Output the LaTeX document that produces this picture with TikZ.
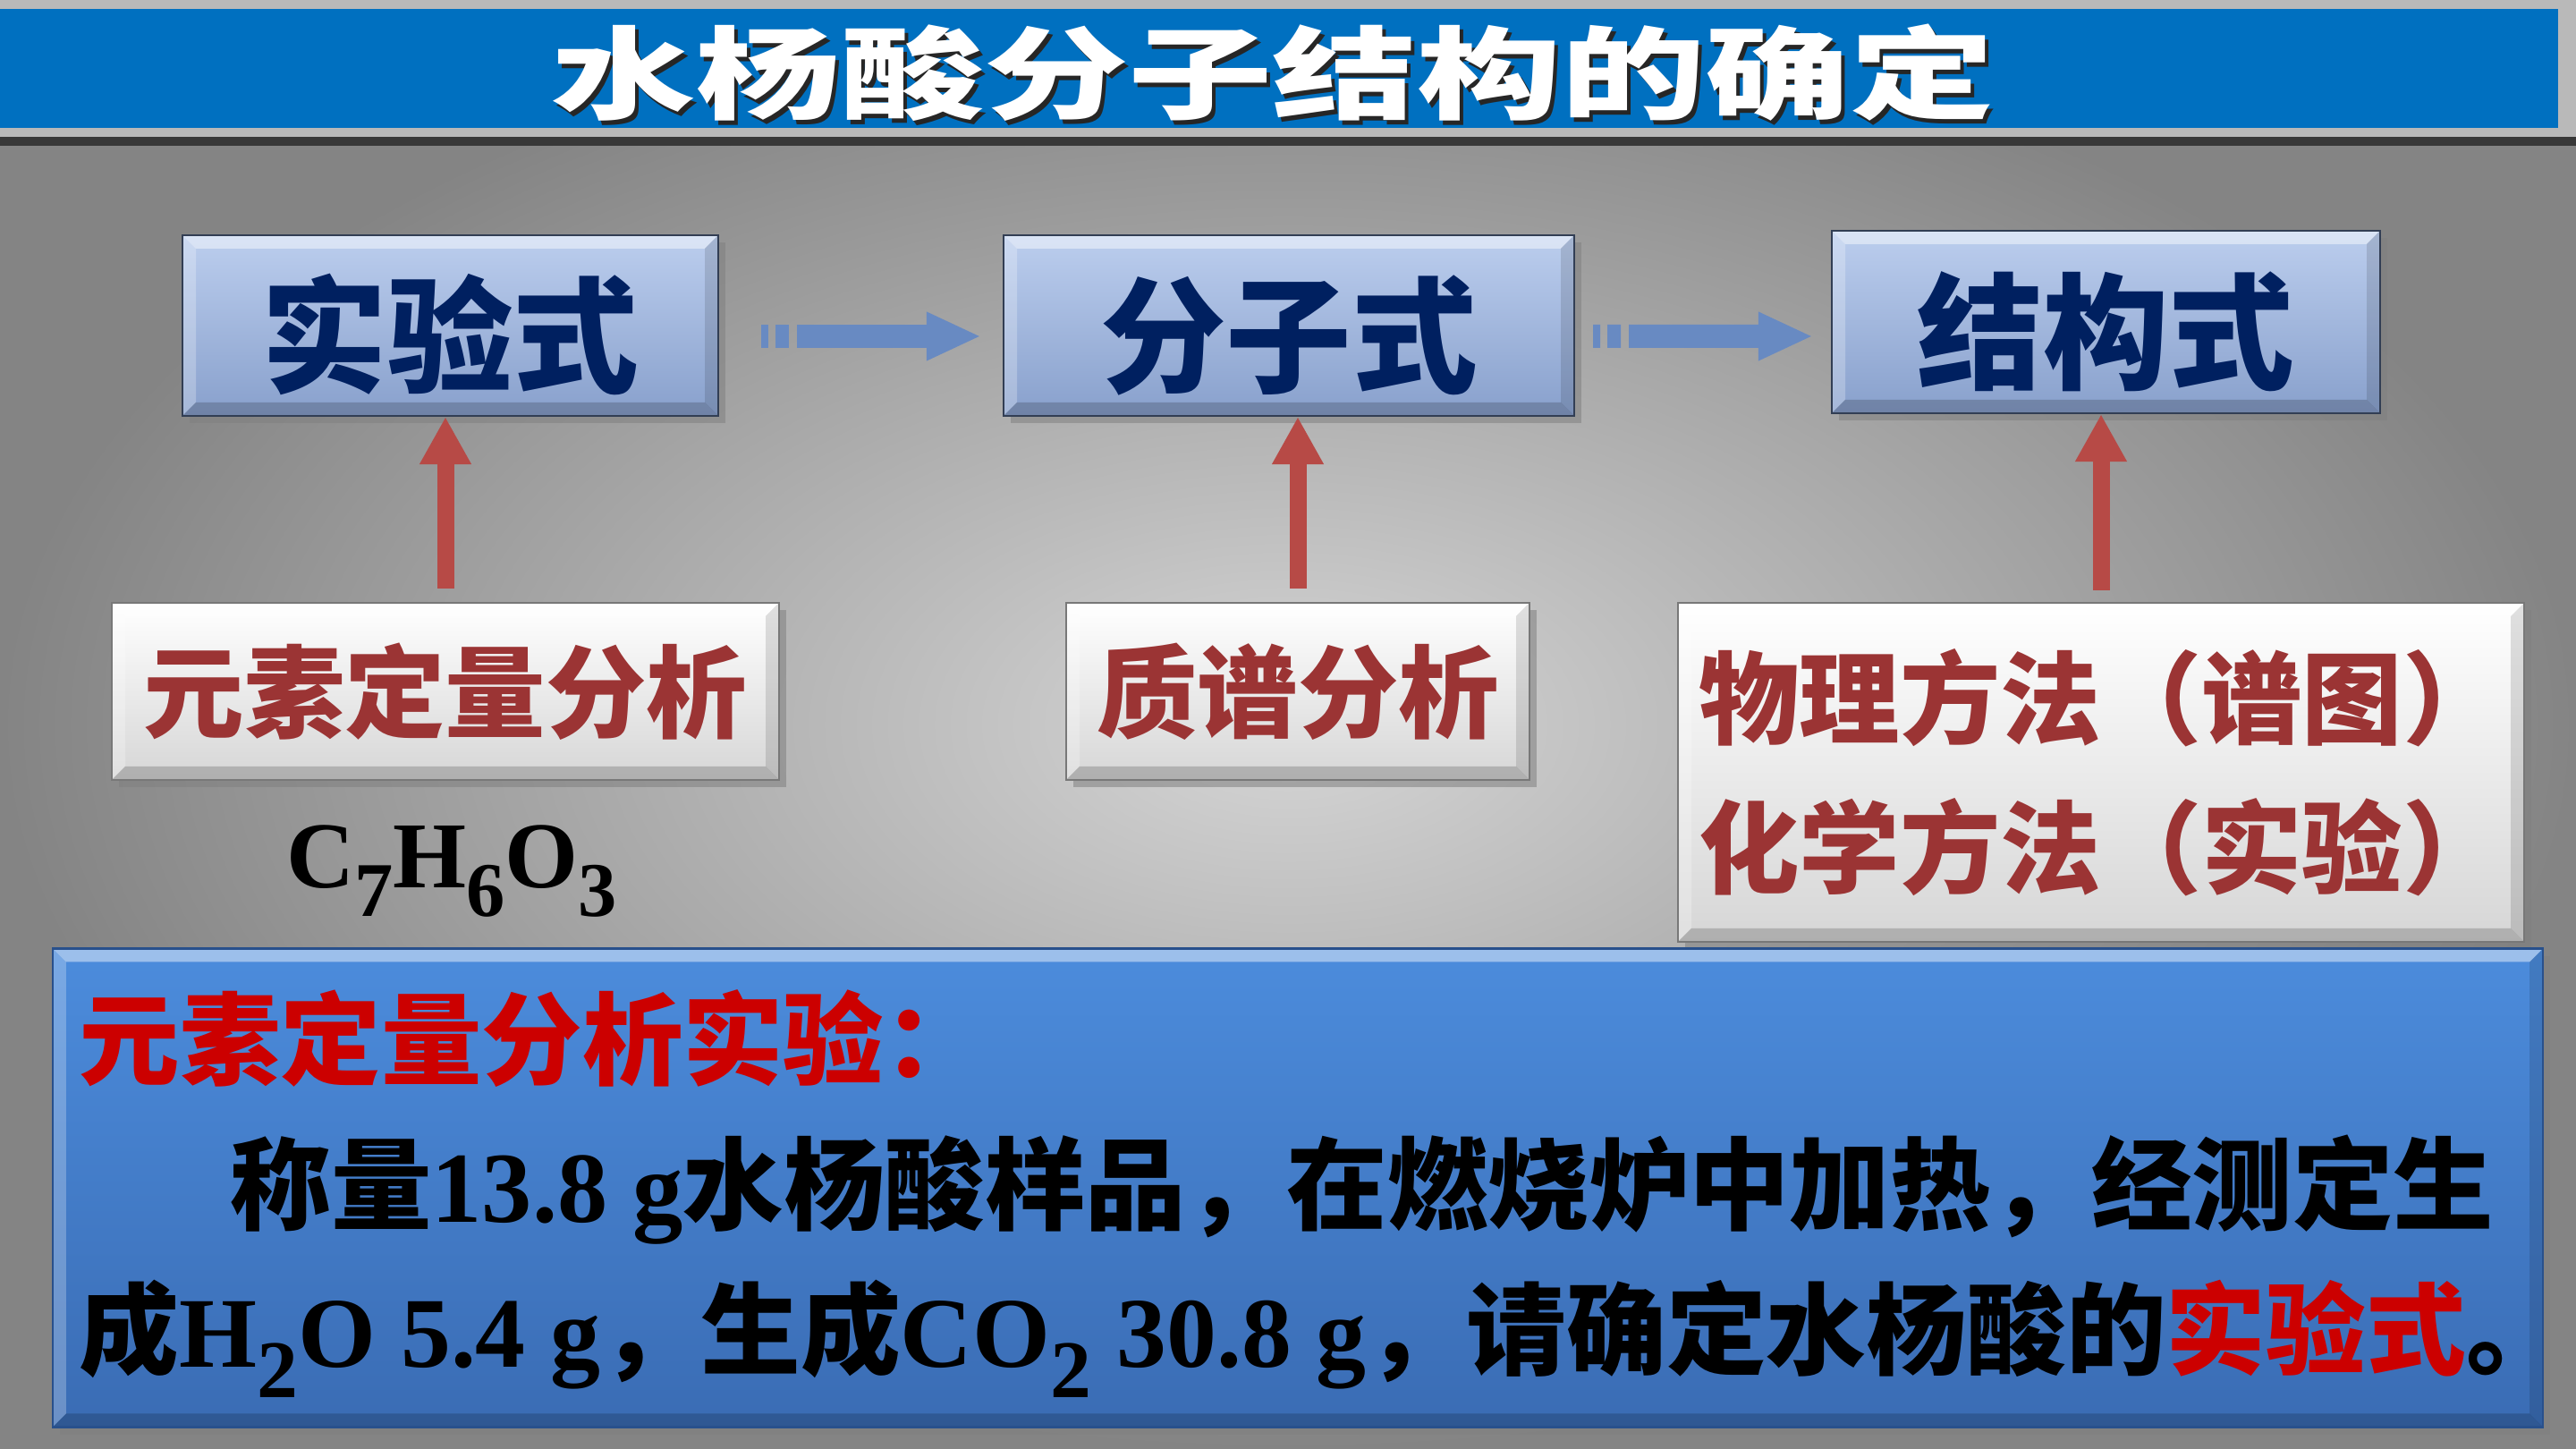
\documentclass[tikz,border=0pt]{standalone}
\usepackage{fontspec}
\setmainfont{Liberation Serif}
\newfontfamily\hei{Noto Sans CJK SC}
\usetikzlibrary{arrows.meta, positioning, shadows}

\definecolor{bgin}{RGB}{214,214,214}
\definecolor{bgout}{RGB}{132,132,132}
\definecolor{titleblue}{RGB}{0,112,192}
\definecolor{uptop}{RGB}{188,206,238}
\definecolor{upbot}{RGB}{136,160,204}
\definecolor{upedge}{RGB}{50,62,84}
\definecolor{uptext}{RGB}{0,32,96}
\definecolor{lowbot}{RGB}{214,214,214}
\definecolor{lowedge}{RGB}{120,120,120}
\definecolor{lowtext}{RGB}{155,52,52}
\definecolor{flowblue}{RGB}{104,138,194}
\definecolor{srcred}{RGB}{183,74,70}
\definecolor{probtop}{RGB}{76,140,220}
\definecolor{probbot}{RGB}{58,108,180}
\definecolor{probedge}{RGB}{40,80,140}
\definecolor{headred}{RGB}{204,0,0}

\newcommand{\chemsub}[1]{\raisebox{-0.3em}{\scalebox{0.82}{#1}}}

\begin{document}
\begin{tikzpicture}[
  bevel/.style={path picture={
    \fill[white, opacity=0.45] (path picture bounding box.north west) -- (path picture bounding box.north east)
      -- ([shift={(-1.5mm,-1.5mm)}]path picture bounding box.north east) -- ([shift={(1.5mm,-1.5mm)}]path picture bounding box.north west) -- cycle;
    \fill[white, opacity=0.25] (path picture bounding box.north west) -- (path picture bounding box.south west)
      -- ([shift={(1.5mm,1.5mm)}]path picture bounding box.south west) -- ([shift={(1.5mm,-1.5mm)}]path picture bounding box.north west) -- cycle;
    \fill[black, opacity=0.18] (path picture bounding box.south west) -- (path picture bounding box.south east)
      -- ([shift={(-1.5mm,1.5mm)}]path picture bounding box.south east) -- ([shift={(1.5mm,1.5mm)}]path picture bounding box.south west) -- cycle;
    \fill[black, opacity=0.12] (path picture bounding box.north east) -- (path picture bounding box.south east)
      -- ([shift={(-1.5mm,1.5mm)}]path picture bounding box.south east) -- ([shift={(-1.5mm,-1.5mm)}]path picture bounding box.north east) -- cycle;
  }},
  upbox/.style={draw=upedge, line width=0.6pt, top color=uptop, bottom color=upbot,
    text=uptext, font=\hei\bfseries\fontsize{40}{40}\selectfont,
    text height=40pt, text depth=3pt,
    minimum height=2.02cm, drop shadow={opacity=0.55}, bevel},
  lowbox/.style={draw=lowedge, line width=0.6pt, top color=white, bottom color=lowbot,
    text=lowtext, font=\hei\bfseries\fontsize{32}{47.5}\selectfont,
    minimum height=1.98cm, drop shadow={opacity=0.55}, bevel},
  probbox/.style={draw=probedge, line width=0.8pt, top color=probtop, bottom color=probbot,
    drop shadow={opacity=0.6}, bevel},
  flow/.style={draw=flowblue, line width=2.6mm, -{Triangle[width=5mm,length=6.1mm]},
    dash pattern=on 0.8mm off 0.8mm on 1.5mm off 0.9mm on 40cm off 1mm},
  source/.style={draw=srcred, line width=1.9mm, -{Triangle[width=5.4mm,length=5.3mm]}},
  titletext/.style={font=\hei\bfseries\fontsize{32}{32}\selectfont, xscale=1.434, inner sep=0pt},
  bodyline/.style={anchor=west, inner sep=0pt, font=\bfseries\fontsize{32}{32}\selectfont},
]
\useasboundingbox (0,0) rectangle (28.8,16.2);

% metal background and title bar
\shade[inner color=bgin, outer color=bgout] (0,0) rectangle (28.8,16.2);
\fill[gray!55] (0,16.2) rectangle (28.8,14.67);
\fill[black!78] (0,14.67) rectangle (28.8,14.57);
\fill[titleblue] (0,16.1) rectangle (28.6,14.77);
\node[titletext, text=black!85] (titleshadow) at (14.27,15.34) {水杨酸分子结构的确定};
\node[titletext, text=white] (title) at (14.23,15.39) {水杨酸分子结构的确定};

% formula chain
\node[upbox, minimum width=5.99cm] (shiyan) at (5.035,12.56) {实验式};
\node[upbox, minimum width=6.38cm] (fenzi) at (14.41,12.56) {分子式};
\node[upbox, minimum width=6.13cm, minimum height=2.04cm] (jiegou) at (23.545,12.60) {结构式};

\draw[flow] ([xshift=4.7mm,yshift=-1.2mm]shiyan.east) -- ([xshift=-2.4mm,yshift=-1.2mm]fenzi.west);
\draw[flow] ([xshift=2mm,yshift=-1.2mm]fenzi.east) -- ([xshift=-2mm,yshift=-1.6mm]jiegou.west);

% methods
\node[lowbox, minimum width=7.46cm] (yuansu) at (4.98,8.47) {元素定量分析};
\node[lowbox, minimum width=5.18cm] (zhipu) at (14.51,8.47) {质谱分析};
\node[lowbox, minimum width=9.46cm, minimum height=3.79cm, align=left] (fangfa) at (23.49,7.565)
  {物理方法（谱图）\\化学方法（实验）};

\draw[source] ([yshift=1.5mm]yuansu.north) -- (yuansu.north |- shiyan.south);
\draw[source] ([yshift=1.5mm]zhipu.north) -- (zhipu.north |- fenzi.south);
\draw[source] ([yshift=1.3mm]fangfa.north) -- (fangfa.north |- jiegou.south);

\node[font=\bfseries\fontsize{30}{30}\selectfont, anchor=base] (formula) at (5.05,6.27)
  {C\chemsub{7}H\chemsub{6}O\chemsub{3}};

% problem text
\node[probbox, minimum width=27.84cm, minimum height=5.35cm] (problem) at (14.51,2.92) {};
\node[bodyline, text=headred] (head) at (0.88,4.59) {\hei 元素定量分析实验：};
\node[bodyline] (lineone) at (2.57,2.90)
  {{\hei 称量}13.8 g{\hei 水杨酸样品，在燃烧炉中加热，经测定生}};
\node[bodyline, font=\bfseries\fontsize{31.8}{31.8}\selectfont] (linetwo) at (0.88,1.23)
  {{\hei 成}H\chemsub{2}O 5.4 g{\hei ，生成}CO\chemsub{2} 30.8 g{\hei ，请确定水杨酸的}\textcolor{headred}{\hei 实验式}{\hei 。}};
\end{tikzpicture}
\end{document}
